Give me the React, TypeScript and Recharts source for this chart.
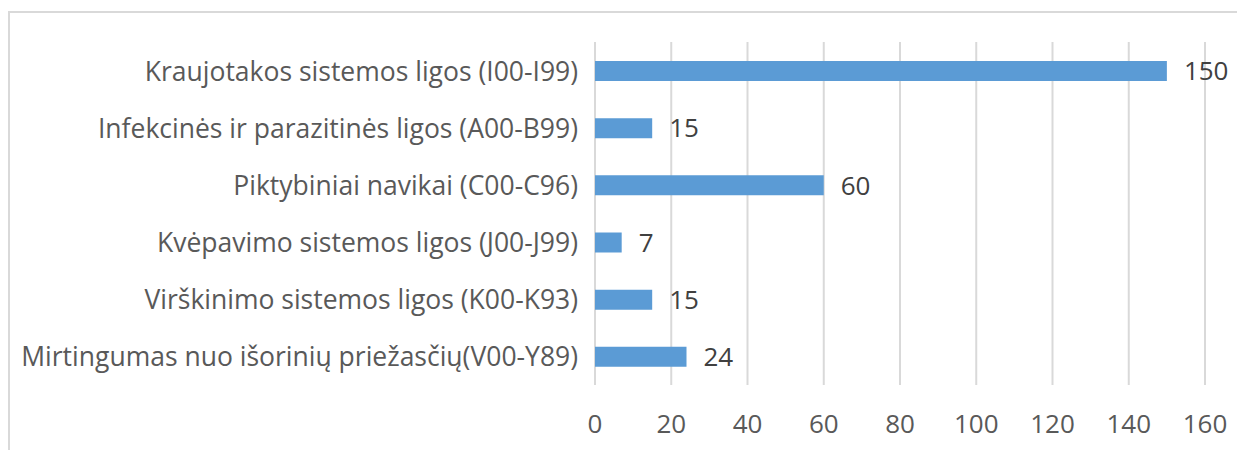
import { BarChart, Bar, XAxis, YAxis, CartesianGrid, LabelList } from 'recharts';

const categories = [
  'Kraujotakos sistemos ligos (I00-I99)',
  'Infekcinės ir parazitinės ligos (A00-B99)',
  'Piktybiniai navikai (C00-C96)',
  'Kvėpavimo sistemos ligos (J00-J99)',
  'Virškinimo sistemos ligos (K00-K93)',
  'Mirtingumas nuo išorinių priežasčių(V00-Y89)',
];
const values = [150, 15, 60, 7, 15, 24];
const xTicks = [0, 20, 40, 60, 80, 100, 120, 140, 160];

const data = categories.map((name, i) => ({ name, value: values[i] }));

const FONT = '"Open Sans", sans-serif';

function YTick({ x, y, payload }: any) {
  return (
    <text x={x - 17} y={y} textAnchor="end" dominantBaseline="central" fontSize={26.5} fontFamily={FONT} fill="#595959">
      {payload.value}
    </text>
  );
}

function XTick({ x, y, payload }: any) {
  return (
    <text x={x} y={y + 38} textAnchor="middle" dominantBaseline="central" fontSize={26} fontFamily={FONT} fill="#595959">
      {payload.value}
    </text>
  );
}

export default function App() {
  return (
    <div
      style={{
        marginTop: 3,
        width: 1235,
        height: 437,
        borderTop: '2px solid #d9d9d9',
        borderLeft: '2px solid #d9d9d9',
        background: '#fff',
      }}
    >
      <BarChart
        width={1235}
        height={437}
        data={data}
        layout="vertical"
        margin={{ top: 29, right: 40, bottom: 0, left: 0 }}
      >
        <CartesianGrid horizontal={false} stroke="#d9d9d9" strokeWidth={2} />
        <XAxis
          type="number"
          domain={[0, 160]}
          ticks={xTicks}
          axisLine={false}
          tickLine={false}
          tickSize={0}
          tickMargin={0}
          height={65}
          tick={<XTick />}
        />
        <YAxis
          type="category"
          dataKey="name"
          width={585}
          axisLine={false}
          tickLine={false}
          tickSize={0}
          tickMargin={0}
          tick={<YTick />}
          interval={0}
        />
        <Bar dataKey="value" fill="#5b9bd5" barSize={20} isAnimationActive={false}>
          <LabelList
            dataKey="value"
            position="right"
            offset={17}
            fontSize={26}
            fontFamily={FONT}
            fill="#404040"
          />
        </Bar>
      </BarChart>
    </div>
  );
}
